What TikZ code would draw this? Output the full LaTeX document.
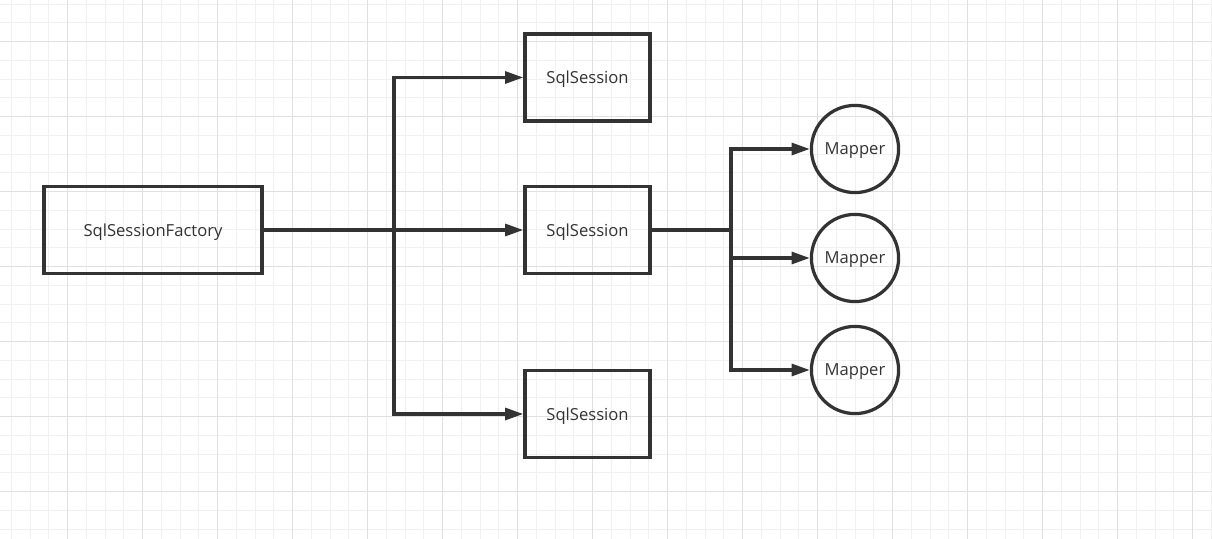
\documentclass[tikz,border=0pt]{standalone}
\usepackage{fontspec}
\setmainfont{Open Sans}
\usetikzlibrary{arrows.meta}

\definecolor{ink}{HTML}{333333}

\begin{document}
\begin{tikzpicture}[x=0.025cm,y=-0.025cm]
            \tikzstyle{box}=[rectangle, draw=ink, line width=2.3pt, text=ink,
            font=\fontsize{11.8}{14}\selectfont, text depth=0pt,
            minimum width=89pt, minimum height=62pt]
            \tikzstyle{mapper}=[circle, draw=ink, line width=2.3pt, text=ink,
            font=\fontsize{11.8}{14}\selectfont, text depth=0pt,
            minimum size=62pt, inner sep=0pt]
            \tikzstyle{link}=[draw=ink, line width=2.3pt]
            \tikzstyle{arr}=[link, -{Triangle[length=13pt, width=8.5pt]}]

            % background grid
            \useasboundingbox[fill=white] (0,0) rectangle (1212,539);
            \foreach \i in {0,...,64} {
                \draw[black!6, line width=0.7pt] ({11.45+\i*18.75},0) -- ++(0,539);
            }
            \foreach \i in {0,...,28} {
                \draw[black!6, line width=0.7pt] (0,{4.2+\i*18.75}) -- ++(1212,0);
            }
            \foreach \i in {0,...,15} {
                \draw[black!12, line width=0.7pt] ({67.7+\i*75},0) -- ++(0,539);
            }
            \foreach \i in {0,...,6} {
                \draw[black!12, line width=0.7pt] (0,{41.7+\i*75}) -- ++(1212,0);
            }

            \node[box, minimum width=155pt] (factory) at (153,230) {SqlSessionFactory};
            \node[box] (s1) at (587.5,77.5) {SqlSession};
            \node[box] (s2) at (587.5,230) {SqlSession};
            \node[box] (s3) at (587.5,414) {SqlSession};

            \node[mapper] (m1) at (855,149) {Mapper};
            \node[mapper] (m2) at (855,258) {Mapper};
            \node[mapper] (m3) at (855,370) {Mapper};

            \coordinate (fork) at (394,230);
            \coordinate (fork2) at (731,230);

            \draw[arr] (factory) -- (s2);
            \draw[arr] (fork) |- (s1);
            \draw[arr] (fork) |- (s3);

            \draw[link] (s2) -- (fork2);
            \draw[arr] (fork2) |- (m1);
            \draw[arr] (fork2) |- (m2);
            \draw[arr] (fork2) |- (m3);
        \end{tikzpicture}
\end{document}
